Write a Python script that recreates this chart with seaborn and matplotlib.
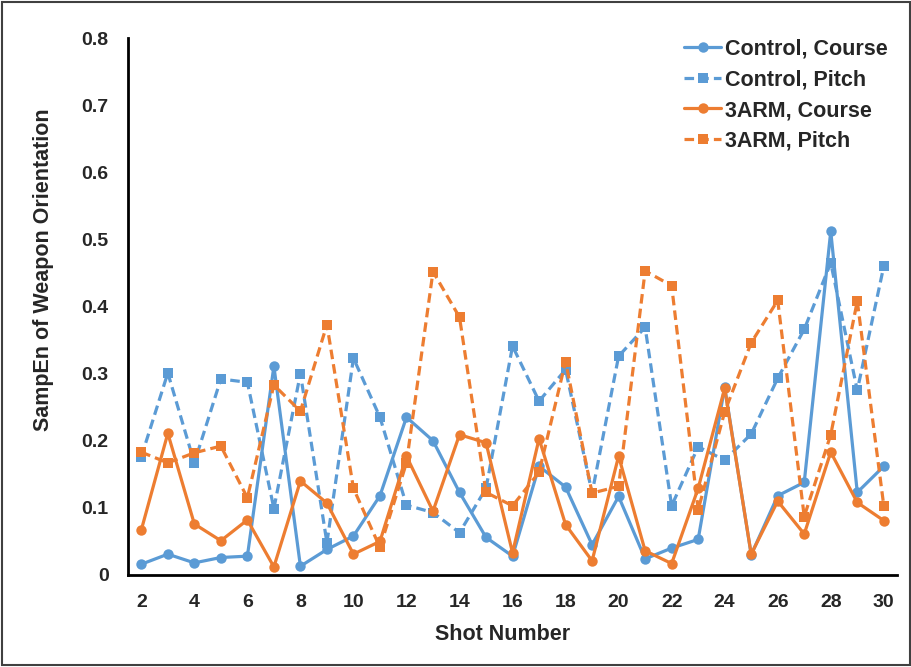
import matplotlib
matplotlib.use("Agg")
import matplotlib.pyplot as plt
from matplotlib.patches import Rectangle
import numpy as np
import pandas as pd
import seaborn as sns

# Shot numbers and SampEn values of weapon orientation per condition
shots = list(range(2, 31))

control_course = [0.016, 0.031, 0.018, 0.026, 0.028, 0.311, 0.013, 0.038, 0.058, 0.118,
                  0.235, 0.200, 0.123, 0.056, 0.028, 0.162, 0.131, 0.045, 0.117, 0.024,
                  0.040, 0.053, 0.280, 0.030, 0.118, 0.138, 0.512, 0.123, 0.162]
control_pitch = [0.176, 0.301, 0.167, 0.292, 0.287, 0.099, 0.300, 0.048, 0.323, 0.235,
                 0.104, 0.093, 0.063, 0.129, 0.341, 0.259, 0.306, 0.122, 0.326, 0.369,
                 0.103, 0.191, 0.171, 0.210, 0.293, 0.366, 0.465, 0.275, 0.460]
arm_course = [0.067, 0.211, 0.076, 0.051, 0.082, 0.012, 0.140, 0.107, 0.031, 0.050,
              0.177, 0.095, 0.209, 0.197, 0.033, 0.203, 0.075, 0.021, 0.177, 0.036,
              0.017, 0.129, 0.278, 0.031, 0.110, 0.061, 0.183, 0.108, 0.081]
arm_pitch = [0.183, 0.167, 0.182, 0.192, 0.115, 0.283, 0.244, 0.373, 0.129, 0.041,
             0.167, 0.452, 0.384, 0.123, 0.103, 0.153, 0.318, 0.122, 0.132, 0.453,
             0.431, 0.097, 0.243, 0.346, 0.409, 0.087, 0.209, 0.408, 0.103]

series_names = ["Control, Course", "Control, Pitch", "3ARM, Course", "3ARM, Pitch"]
series_values = [control_course, control_pitch, arm_course, arm_pitch]

x_ticks = list(range(2, 31, 2))
y_ticks = [0, 0.1, 0.2, 0.3, 0.4, 0.5, 0.6, 0.7, 0.8]
y_tick_labels = ["0", "0.1", "0.2", "0.3", "0.4", "0.5", "0.6", "0.7", "0.8"]

BLUE = "#5B9BD5"
ORANGE = "#ED7D31"
styles = [
    dict(color=BLUE, marker="o", linestyle="-"),
    dict(color=BLUE, marker="s", linestyle=(0, (3, 1.6))),
    dict(color=ORANGE, marker="o", linestyle="-"),
    dict(color=ORANGE, marker="s", linestyle=(0, (3, 1.6))),
]

sns.set_theme(style="white")
plt.rcParams["font.family"] = ["Liberation Sans", "DejaVu Sans"]

fig = plt.figure(figsize=(9.12, 6.67), dpi=100)
ax = fig.add_axes([0.1404, 0.138, 0.8432, 0.805])

for name, vals, st in zip(series_names, series_values, styles):
    df = pd.DataFrame({"Shot": shots, "SampEn": vals})
    sns.lineplot(data=df, x="Shot", y="SampEn", ax=ax, label=name,
                 color=st["color"], marker=st["marker"], linestyle=st["linestyle"],
                 linewidth=2.3, markersize=7.5, markeredgewidth=0,
                 markeredgecolor=st["color"])

ax.set_xlim(1.5, 30.5)
ax.set_ylim(0, 0.8)
ax.set_xticks(x_ticks)
ax.set_xticklabels([str(t) for t in x_ticks], fontsize=14, fontweight="bold")
ax.set_yticks(y_ticks)
ax.set_yticklabels(y_tick_labels, fontsize=14, fontweight="bold")
ax.tick_params(axis="both", length=0)
ax.tick_params(axis="x", pad=14)
ax.tick_params(axis="y", pad=14)

ax.set_xlabel("Shot Number", fontsize=15.5, fontweight="bold", labelpad=9, x=0.487)
ax.set_ylabel("SampEn of Weapon Orientation", fontsize=15.5, fontweight="bold",
              labelpad=20, y=0.568)

for side in ["top", "right"]:
    ax.spines[side].set_visible(False)
for side in ["left", "bottom"]:
    ax.spines[side].set_color("black")
    ax.spines[side].set_linewidth(2)
ax.grid(False)

leg = ax.legend(loc="upper right", bbox_to_anchor=(0.983, 0.955), bbox_transform=fig.transFigure,
                frameon=False, prop={"weight": "bold", "size": 15.5},
                handlelength=1.7, handletextpad=0.2, labelspacing=0.45, borderaxespad=0)

# Frame around the whole figure
fig.patches.append(Rectangle((0.002, 0.003), 0.996, 0.994, transform=fig.transFigure,
                             fill=False, edgecolor="#404040", linewidth=1.5))

fig.savefig("out.png", dpi=100, facecolor="white")
